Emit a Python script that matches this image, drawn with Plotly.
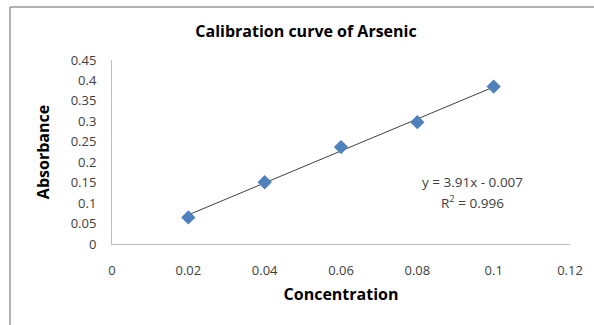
import plotly.graph_objects as go

concentration = [0.02, 0.04, 0.06, 0.08, 0.10]
absorbance = [0.065, 0.151, 0.237, 0.298, 0.385]
fit_slope = 3.91
fit_intercept = -0.007
fit_r2 = 0.996
x_ticks = [0, 0.02, 0.04, 0.06, 0.08, 0.1, 0.12]
y_ticks = [0, 0.05, 0.1, 0.15, 0.2, 0.25, 0.3, 0.35, 0.4, 0.45]

FONT = "'Open Sans', sans-serif"

fit_x = [concentration[0], concentration[-1]]
fit_y = [fit_slope * v + fit_intercept for v in fit_x]

fig = go.Figure()
fig.add_trace(go.Scatter(x=fit_x, y=fit_y, mode="lines",
                         line=dict(color="#404040", width=1), showlegend=False,
                         hoverinfo="skip"))
fig.add_trace(go.Scatter(x=concentration, y=absorbance, mode="markers",
                         marker=dict(symbol="diamond", size=11, color="#4F81BD",
                                     line=dict(width=0)),
                         showlegend=False))

W, H = 594, 325
L, R, T, B = 112, 24, 60, 81
pw, ph = W - L - R, H - T - B

def px(xpix):
    return (xpix - L) / pw

def py(ypix):
    return (H - B - ypix) / ph

fig.update_layout(
    width=W, height=H,
    margin=dict(l=L, r=R, t=T, b=B),
    paper_bgcolor="white", plot_bgcolor="white",
    font=dict(family=FONT, size=13, color="#404040"),
    title=dict(text="<b>Calibration curve of Arsenic</b>", xref="container",
               x=306 / W, xanchor="center", yref="container",
               y=1 - 31 / H, yanchor="middle",
               font=dict(family=FONT, size=16, color="black")),
    xaxis=dict(range=[0, 0.12], tickvals=x_ticks, ticktext=[f"{v:g}" for v in x_ticks],
               showgrid=False, zeroline=False, showline=True, linecolor="#BFBFBF",
               linewidth=1, ticks="outside", ticklen=14, tickcolor="rgba(0,0,0,0)",
               tickfont=dict(size=13, color="#404040"),
               title=dict(text="<b>Concentration</b>", standoff=11,
                          font=dict(size=16, color="black"))),
    yaxis=dict(range=[0, 0.45], tickvals=y_ticks, ticktext=[f"{v:g}" for v in y_ticks],
               showgrid=False, zeroline=False, showline=True, linecolor="#BFBFBF",
               linewidth=1, ticks="outside", ticklen=12, tickcolor="rgba(0,0,0,0)",
               tickfont=dict(size=13, color="#404040"),
               title=dict(text="<b>Absorbance</b>", standoff=17,
                          font=dict(size=16, color="black"))),
    shapes=[
        dict(type="line", xref="paper", yref="paper", x0=px(10), x1=px(10),
             y0=py(7), y1=py(330), line=dict(color="#9A9A9A", width=1.5)),
        dict(type="line", xref="paper", yref="paper", x0=px(10), x1=px(600),
             y0=py(7), y1=py(7), line=dict(color="#9A9A9A", width=1.5)),
    ],
    annotations=[
        dict(text=f"y = {fit_slope:g}x - {abs(fit_intercept):g}",
             xref="paper", yref="paper", x=px(472), y=py(182), xanchor="center",
             yanchor="middle", showarrow=False,
             font=dict(size=13.5, color="#404040")),
        dict(text=f"R<sup>2</sup> = {fit_r2:g}",
             xref="paper", yref="paper", x=px(472), y=py(202), xanchor="center",
             yanchor="middle", showarrow=False,
             font=dict(size=13.5, color="#404040")),
    ],
)

fig.write_html("out.html")
